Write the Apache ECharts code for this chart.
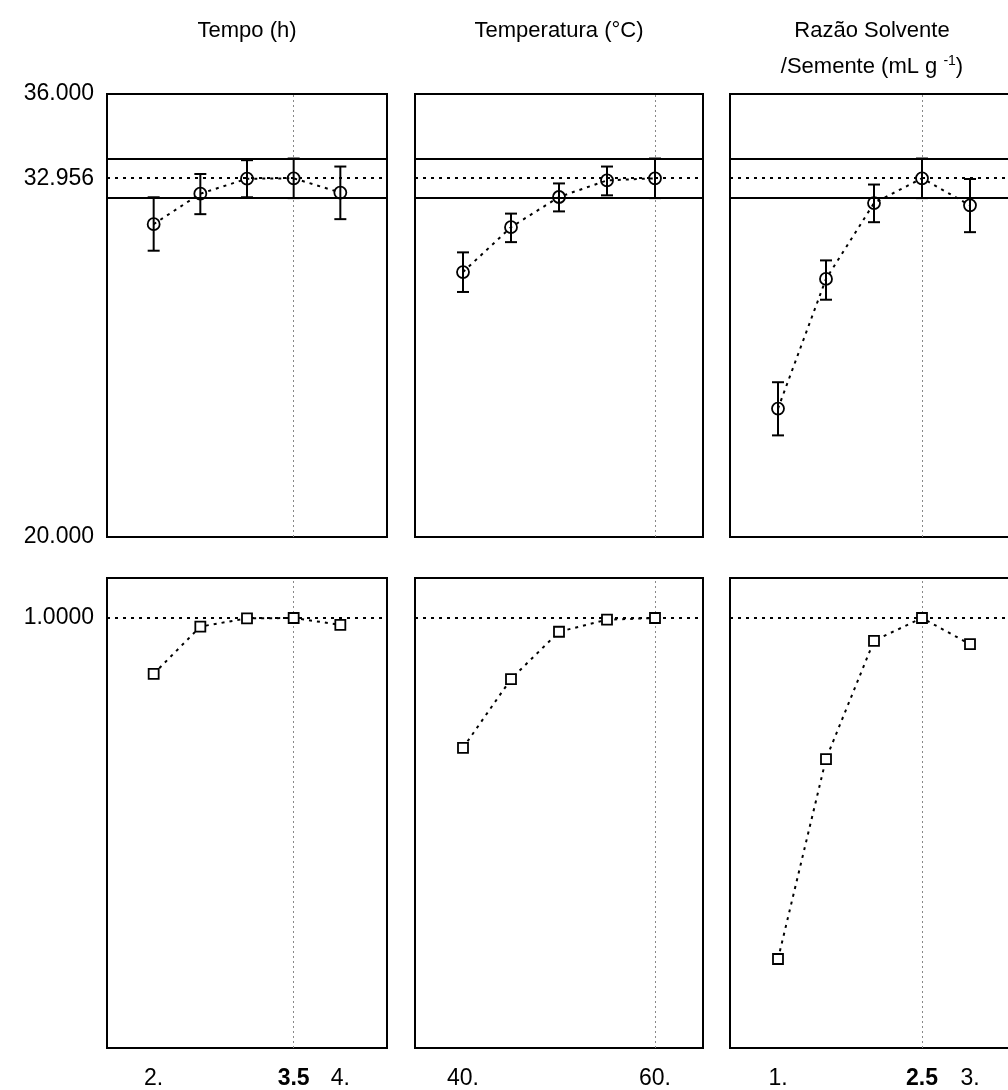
<!DOCTYPE html>
<html>
<head>
<meta charset="utf-8">
<script src="https://cdn.jsdelivr.net/npm/echarts@6/dist/echarts.min.js"></script>
<style>html,body{margin:0;padding:0;background:#fff;overflow:hidden}#c{width:1040px;height:1090px}</style>
</head>
<body>
<div id="c"></div>
<script>
// ---- data ----
const panelTitles = ['Tempo (h)', 'Temperatura (°C)', 'Razão Solvente\n/Semente (mL g {sup|-1})'];
const tempoX = [2, 2.5, 3, 3.5, 4];
const tempoY = [31.30, 32.40, 32.94, 32.956, 32.44];
const tempoLow = [30.34, 31.66, 32.27, 32.24, 31.48];
const tempoHigh = [32.27, 33.11, 33.61, 33.67, 33.38];
const tempoD = [0.870, 0.980, 0.999, 1.0, 0.984];

const tempX = [40, 45, 50, 55, 60];
const tempY = [29.57, 31.19, 32.28, 32.88, 32.956];
const tempLow = [28.85, 30.65, 31.76, 32.34, 32.24];
const tempHigh = [30.28, 31.68, 32.77, 33.38, 33.67];
const tempD = [0.698, 0.858, 0.968, 0.996, 1.0];

const razaoX = [1, 1.5, 2, 2.5, 3];
const razaoY = [24.64, 29.32, 32.06, 32.956, 31.98];
const razaoLow = [23.67, 28.57, 31.37, 32.24, 31.01];
const razaoHigh = [25.59, 29.99, 32.73, 33.67, 32.93];
const razaoD = [0.207, 0.672, 0.947, 1.0, 0.939];

const optimumY = 32.956;
const bandLow = 32.24, bandHigh = 33.67;
const optimumX = [3.5, 60, 2.5];
const xMin = [1.5, 35, 0.5], xMax = [4.5, 65, 3.5], xInterval = [0.5, 5, 0.5];
const xTickLabels = [[2, 3.5, 4], [40, 60], [1, 2.5, 3]];
const boldTicks = [[3.5], [], [2.5]];
const yTickLabelsTop = [20, 32.956, 36];
const yTickLabelsBottom = [1];

// ---- layout ----
const FONT = 'Liberation Sans, Arial, sans-serif';
const NUM_SIZE = 23, TITLE_SIZE = 22;
const panelLeft = [107, 415, 730];
const panelWidth = [280, 288, 288];
const topY = 94, topH = 443, botY = 578, botH = 471;

const xs = [tempoX, tempX, razaoX];
const ys = [tempoY, tempY, razaoY];
const lows = [tempoLow, tempLow, razaoLow];
const highs = [tempoHigh, tempHigh, razaoHigh];
const ds = [tempoD, tempD, razaoD];

const grids = [], xAxes = [], yAxes = [], series = [];
for (let r = 0; r < 2; r++) {
  for (let c = 0; c < 3; c++) {
    const gi = r * 3 + c;
    grids.push({left: panelLeft[c], width: panelWidth[c], top: r === 0 ? topY : botY, height: r === 0 ? topH : botH,
      show: true, borderColor: '#000', borderWidth: 2, backgroundColor: '#fff', containLabel: false});
    xAxes.push({type: 'value', gridIndex: gi, min: xMin[c], max: xMax[c], interval: xInterval[c],
      axisLine: {show: false}, axisTick: {show: false}, splitLine: {show: false},
      axisLabel: {show: r === 1, margin: 19, color: '#000', fontFamily: FONT, fontSize: NUM_SIZE,
        showMinLabel: true, showMaxLabel: true,
        formatter: function (v) {
          const hit = xTickLabels[c].some(t => Math.abs(t - v) < 1e-9);
          if (!hit) return '';
          if (boldTicks[c].some(t => Math.abs(t - v) < 1e-9)) return '{b|' + v + '}';
          return Math.round(v) + '.';
        },
        rich: {b: {fontWeight: 'bold', fontFamily: FONT, fontSize: NUM_SIZE, color: '#000'}}
      }});
    if (r === 0) {
      yAxes.push({type: 'value', gridIndex: gi, min: 20, max: 36,
        axisLine: {show: false}, axisTick: {show: false}, splitLine: {show: false},
        axisLabel: {show: c === 0, margin: 13, color: '#000', fontFamily: FONT, fontSize: NUM_SIZE,
          customValues: yTickLabelsTop, formatter: v => v.toFixed(3)}});
    } else {
      yAxes.push({type: 'value', gridIndex: gi, min: 0, max: 1.093,
        axisLine: {show: false}, axisTick: {show: false}, splitLine: {show: false},
        axisLabel: {show: c === 0, margin: 13, color: '#000', fontFamily: FONT, fontSize: NUM_SIZE,
          customValues: yTickLabelsBottom, formatter: v => v.toFixed(4)}});
    }
  }
}

const dotted = {color: '#000', width: 2, type: [3, 5]};
const vline = {color: '#888', width: 1, type: [2, 3]};
for (let c = 0; c < 3; c++) {
  const pts = xs[c].map((x, i) => [x, ys[c][i]]);
  series.push({type: 'line', xAxisIndex: c, yAxisIndex: c, data: pts, z: 5,
    symbol: 'circle', symbolSize: 12, showSymbol: true,
    itemStyle: {color: 'rgba(0,0,0,0)', borderColor: '#000', borderWidth: 1.8},
    lineStyle: dotted, animation: false,
    markLine: {silent: true, symbol: 'none', animation: false, label: {show: false},
      data: [
        {yAxis: optimumY, lineStyle: dotted},
        {yAxis: bandHigh, lineStyle: {color: '#000', width: 2, type: 'solid'}},
        {yAxis: bandLow, lineStyle: {color: '#000', width: 2, type: 'solid'}},
        {xAxis: optimumX[c], lineStyle: vline}
      ]}});
  const eb = xs[c].map((x, i) => [x, lows[c][i], highs[c][i]]);
  series.push({type: 'custom', xAxisIndex: c, yAxisIndex: c, data: eb, z: 6, animation: false,
    renderItem: function (params, api) {
      const x = api.value(0);
      const p1 = api.coord([x, api.value(1)]);
      const p2 = api.coord([x, api.value(2)]);
      const w = 6, st = {stroke: '#000', lineWidth: 2};
      return {type: 'group', children: [
        {type: 'line', shape: {x1: p1[0], y1: p1[1], x2: p2[0], y2: p2[1]}, style: st},
        {type: 'line', shape: {x1: p1[0] - w, y1: p1[1], x2: p1[0] + w, y2: p1[1]}, style: st},
        {type: 'line', shape: {x1: p2[0] - w, y1: p2[1], x2: p2[0] + w, y2: p2[1]}, style: st}
      ]};
    }});
  const dpts = xs[c].map((x, i) => [x, ds[c][i]]);
  series.push({type: 'line', xAxisIndex: c + 3, yAxisIndex: c + 3, data: dpts, z: 5,
    symbol: 'rect', symbolSize: 10, showSymbol: true,
    itemStyle: {color: '#fff', borderColor: '#000', borderWidth: 1.8},
    lineStyle: dotted, animation: false,
    markLine: {silent: true, symbol: 'none', animation: false, label: {show: false},
      data: [
        {yAxis: 1, lineStyle: dotted},
        {xAxis: optimumX[c], lineStyle: vline}
      ]}});
}

const centers = panelLeft.map((l, i) => l + panelWidth[i] / 2);
const graphic = [
  {type: 'text', x: centers[0], y: 31, style: {text: panelTitles[0], font: TITLE_SIZE + 'px ' + FONT, fill: '#000', align: 'center', verticalAlign: 'middle'}},
  {type: 'text', x: centers[1], y: 31, style: {text: panelTitles[1], font: TITLE_SIZE + 'px ' + FONT, fill: '#000', align: 'center', verticalAlign: 'middle'}},
  {type: 'text', x: centers[2] - 2, y: 49, style: {text: panelTitles[2], font: TITLE_SIZE + 'px ' + FONT, fill: '#000', align: 'center', verticalAlign: 'middle', lineHeight: 36,
    rich: {sup: {fontSize: 14, fontFamily: FONT, fill: '#000', padding: [0, 0, 12, 0]}}}}
];

const chart = echarts.init(document.getElementById('c'), null, {renderer: 'canvas'});
chart.setOption({animation: false, backgroundColor: '#fff', grid: grids, xAxis: xAxes, yAxis: yAxes, series: series, graphic: graphic});
</script>
</body>
</html>
